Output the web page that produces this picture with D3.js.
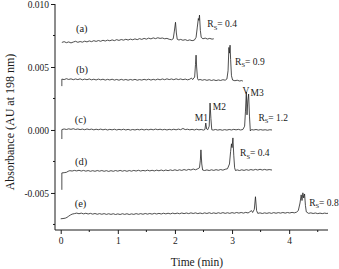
<!DOCTYPE html>
<html><head><meta charset="utf-8">
<script src="https://cdn.jsdelivr.net/npm/d3@7"></script>
<style>html,body{margin:0;padding:0;background:#fff;}svg{display:block;font-family:"Liberation Serif","Times New Roman",serif;}</style>
</head><body>
<svg id="chart" width="339" height="269"></svg>
<script>
// ---- data (time in min, absorbance in AU) ----
const traceNames = ["(a)","(b)","(c)","(d)","(e)"];
const rsLabels = ["0.4","0.9","1.2","0.4","0.8"];
const xTicks = [0,1,2,3,4];
const xMinorTicks = [0.5,1.5,2.5,3.5,4.5];
const yTicks = [-0.005,0.000,0.005,0.010];
const yMinorTicks = [-0.0075,-0.0025,0.0025,0.0075];

const traceA = [[0.02,0.00695],[0.06,0.00701],[0.10,0.00693],[0.14,0.00699],[0.18,0.00691],[0.22,0.00698],[0.26,0.00704],[0.30,0.00696],[0.34,0.00702],[0.38,0.00697],[0.42,0.00705],[0.46,0.00699],[0.50,0.00707],[0.54,0.00701],[0.58,0.00709],[0.62,0.00703],[0.66,0.00710],[0.70,0.00704],[0.74,0.00712],[0.78,0.00706],[0.82,0.00713],[0.86,0.00708],[0.90,0.00715],[0.94,0.00709],[0.98,0.00717],[1.02,0.00711],[1.06,0.00718],[1.10,0.00713],[1.14,0.00720],[1.18,0.00714],[1.22,0.00721],[1.26,0.00716],[1.30,0.00723],[1.34,0.00717],[1.38,0.00725],[1.42,0.00719],[1.46,0.00727],[1.50,0.00721],[1.54,0.00729],[1.58,0.00723],[1.62,0.00731],[1.66,0.00725],[1.70,0.00732],[1.74,0.00727],[1.78,0.00730],[1.82,0.00724],[1.86,0.00727],[1.90,0.00720],[1.94,0.00716],[1.97,0.00724],[1.99,0.00785],[2.01,0.00855],[2.025,0.00770],[2.04,0.00720],[2.07,0.00714],[2.10,0.00719],[2.14,0.00712],[2.18,0.00717],[2.22,0.00710],[2.26,0.00715],[2.30,0.00709],[2.34,0.00713],[2.37,0.00735],[2.39,0.00810],[2.41,0.00885],[2.42,0.00870],[2.43,0.00912],[2.445,0.00790],[2.46,0.00735],[2.49,0.00724],[2.53,0.00729],[2.57,0.00722],[2.61,0.00727],[2.65,0.00721],[2.68,0.00724]];

const traceB = [[0.02,0.00348],[0.02,0.00404],[0.06,0.00400],[0.10,0.00407],[0.14,0.00401],[0.18,0.00406],[0.22,0.00399],[0.26,0.00405],[0.30,0.00400],[0.34,0.00406],[0.38,0.00398],[0.42,0.00404],[0.46,0.00399],[0.50,0.00405],[0.54,0.00398],[0.58,0.00403],[0.62,0.00397],[0.66,0.00404],[0.70,0.00398],[0.74,0.00403],[0.78,0.00396],[0.82,0.00402],[0.86,0.00397],[0.90,0.00403],[0.94,0.00396],[0.98,0.00401],[1.02,0.00395],[1.06,0.00402],[1.10,0.00396],[1.14,0.00401],[1.18,0.00395],[1.22,0.00401],[1.26,0.00396],[1.30,0.00402],[1.34,0.00395],[1.38,0.00400],[1.42,0.00396],[1.46,0.00402],[1.50,0.00397],[1.54,0.00403],[1.58,0.00396],[1.62,0.00402],[1.66,0.00397],[1.70,0.00404],[1.74,0.00398],[1.78,0.00405],[1.82,0.00399],[1.86,0.00406],[1.90,0.00400],[1.94,0.00405],[1.98,0.00399],[2.02,0.00406],[2.06,0.00400],[2.10,0.00405],[2.14,0.00399],[2.18,0.00404],[2.22,0.00398],[2.26,0.00403],[2.29,0.00412],[2.31,0.00400],[2.345,0.00420],[2.36,0.00520],[2.37,0.00594],[2.38,0.00500],[2.395,0.00410],[2.41,0.00396],[2.44,0.00401],[2.48,0.00395],[2.52,0.00400],[2.56,0.00394],[2.60,0.00399],[2.64,0.00393],[2.68,0.00398],[2.72,0.00392],[2.76,0.00397],[2.80,0.00393],[2.84,0.00399],[2.88,0.00395],[2.91,0.00405],[2.93,0.00470],[2.945,0.00655],[2.955,0.00610],[2.965,0.00673],[2.975,0.00560],[2.99,0.00430],[3.01,0.00396],[3.05,0.00391],[3.09,0.00395],[3.13,0.00389],[3.17,0.00392],[3.19,0.00388]];

const traceC = [[0.02,-0.00072],[0.02,0.00003],[0.06,0.00008],[0.10,0.00004],[0.14,0.00009],[0.18,0.00005],[0.22,0.00010],[0.26,0.00004],[0.30,0.00008],[0.34,0.00003],[0.38,0.00007],[0.42,0.00002],[0.46,0.00008],[0.50,0.00003],[0.54,0.00007],[0.58,0.00001],[0.62,0.00006],[0.66,0.00002],[0.70,0.00007],[0.74,0.00001],[0.78,0.00006],[0.82,0.00000],[0.86,0.00005],[0.90,0.00001],[0.94,0.00006],[0.98,0.00000],[1.02,0.00005],[1.06,0.00001],[1.10,0.00006],[1.14,0.00000],[1.18,0.00005],[1.22,-0.00001],[1.26,0.00004],[1.30,0.00000],[1.34,0.00005],[1.38,0.00001],[1.42,0.00006],[1.46,0.00000],[1.50,0.00005],[1.54,0.00001],[1.58,0.00006],[1.62,0.00001],[1.66,0.00007],[1.70,0.00002],[1.74,0.00006],[1.78,0.00001],[1.82,0.00005],[1.86,0.00000],[1.90,0.00005],[1.94,0.00001],[1.98,0.00006],[2.02,0.00001],[2.06,0.00007],[2.10,0.00002],[2.14,0.00012],[2.18,0.00003],[2.22,0.00006],[2.26,0.00001],[2.30,0.00005],[2.34,0.00000],[2.38,0.00006],[2.42,0.00001],[2.46,0.00004],[2.50,-0.00001],[2.525,0.00004],[2.54,0.00055],[2.555,0.00008],[2.575,0.00002],[2.60,0.00030],[2.615,0.00214],[2.63,0.00090],[2.645,0.00002],[2.67,-0.00001],[2.71,0.00004],[2.75,-0.00001],[2.79,0.00003],[2.83,-0.00002],[2.87,0.00003],[2.91,-0.00001],[2.95,0.00004],[2.99,0.00000],[3.03,0.00005],[3.07,0.00001],[3.11,0.00005],[3.15,0.00000],[3.19,0.00004],[3.22,0.00030],[3.235,0.00150],[3.25,0.00301],[3.262,0.00120],[3.275,0.00230],[3.29,0.00285],[3.305,0.00110],[3.32,-0.00008],[3.34,0.00003],[3.38,0.00000],[3.42,0.00004],[3.46,-0.00001],[3.50,0.00003],[3.54,-0.00001],[3.58,0.00002],[3.62,-0.00002],[3.66,0.00002],[3.70,0.00000]];

const traceD = [[0.02,-0.00475],[0.02,-0.00341],[0.06,-0.00339],[0.10,-0.00336],[0.13,-0.00328],[0.16,-0.00323],[0.20,-0.00326],[0.24,-0.00321],[0.28,-0.00325],[0.32,-0.00320],[0.36,-0.00326],[0.40,-0.00321],[0.44,-0.00327],[0.48,-0.00322],[0.52,-0.00328],[0.56,-0.00323],[0.60,-0.00328],[0.64,-0.00322],[0.68,-0.00327],[0.72,-0.00322],[0.76,-0.00328],[0.80,-0.00323],[0.84,-0.00329],[0.88,-0.00323],[0.92,-0.00328],[0.96,-0.00322],[1.00,-0.00327],[1.04,-0.00321],[1.08,-0.00327],[1.12,-0.00322],[1.16,-0.00328],[1.20,-0.00322],[1.24,-0.00327],[1.28,-0.00321],[1.32,-0.00326],[1.36,-0.00320],[1.40,-0.00326],[1.44,-0.00321],[1.48,-0.00325],[1.52,-0.00319],[1.56,-0.00325],[1.60,-0.00320],[1.64,-0.00325],[1.68,-0.00319],[1.72,-0.00324],[1.76,-0.00318],[1.80,-0.00324],[1.84,-0.00318],[1.88,-0.00323],[1.92,-0.00317],[1.96,-0.00322],[2.00,-0.00316],[2.04,-0.00322],[2.08,-0.00316],[2.12,-0.00321],[2.16,-0.00314],[2.20,-0.00320],[2.24,-0.00313],[2.28,-0.00318],[2.32,-0.00310],[2.36,-0.00316],[2.40,-0.00308],[2.43,-0.00300],[2.445,-0.00240],[2.455,-0.00158],[2.47,-0.00270],[2.485,-0.00318],[2.52,-0.00322],[2.56,-0.00317],[2.60,-0.00322],[2.64,-0.00316],[2.68,-0.00321],[2.72,-0.00315],[2.76,-0.00320],[2.80,-0.00314],[2.84,-0.00319],[2.88,-0.00312],[2.92,-0.00308],[2.955,-0.00270],[2.975,-0.00170],[2.99,-0.00110],[3.00,-0.00140],[3.015,-0.00063],[3.03,-0.00200],[3.045,-0.00300],[3.06,-0.00322],[3.09,-0.00317],[3.13,-0.00322],[3.17,-0.00316],[3.21,-0.00321],[3.25,-0.00315],[3.29,-0.00320],[3.33,-0.00314],[3.37,-0.00319],[3.41,-0.00313],[3.45,-0.00318],[3.49,-0.00312],[3.53,-0.00318],[3.57,-0.00313],[3.61,-0.00318],[3.65,-0.00314],[3.70,-0.00318]];

const traceE = [[0.00,-0.00705],[0.04,-0.00703],[0.08,-0.00700],[0.11,-0.00694],[0.14,-0.00684],[0.17,-0.00675],[0.20,-0.00668],[0.24,-0.00664],[0.28,-0.00660],[0.32,-0.00665],[0.36,-0.00660],[0.40,-0.00666],[0.44,-0.00661],[0.48,-0.00667],[0.52,-0.00662],[0.56,-0.00668],[0.60,-0.00663],[0.64,-0.00669],[0.68,-0.00664],[0.72,-0.00669],[0.76,-0.00664],[0.80,-0.00670],[0.84,-0.00665],[0.88,-0.00670],[0.92,-0.00665],[0.96,-0.00671],[1.00,-0.00666],[1.04,-0.00671],[1.08,-0.00665],[1.12,-0.00670],[1.16,-0.00665],[1.20,-0.00671],[1.24,-0.00666],[1.28,-0.00670],[1.32,-0.00664],[1.36,-0.00669],[1.40,-0.00664],[1.44,-0.00669],[1.48,-0.00663],[1.52,-0.00668],[1.56,-0.00663],[1.60,-0.00668],[1.64,-0.00662],[1.68,-0.00667],[1.72,-0.00662],[1.76,-0.00667],[1.80,-0.00661],[1.84,-0.00666],[1.88,-0.00661],[1.92,-0.00666],[1.96,-0.00660],[2.00,-0.00665],[2.04,-0.00660],[2.08,-0.00665],[2.12,-0.00659],[2.16,-0.00664],[2.20,-0.00659],[2.24,-0.00664],[2.28,-0.00658],[2.32,-0.00663],[2.36,-0.00658],[2.40,-0.00664],[2.44,-0.00659],[2.48,-0.00664],[2.52,-0.00658],[2.56,-0.00663],[2.60,-0.00657],[2.64,-0.00663],[2.68,-0.00658],[2.72,-0.00663],[2.76,-0.00657],[2.80,-0.00662],[2.84,-0.00656],[2.88,-0.00662],[2.92,-0.00657],[2.96,-0.00662],[3.00,-0.00656],[3.04,-0.00661],[3.08,-0.00655],[3.12,-0.00660],[3.16,-0.00655],[3.20,-0.00660],[3.24,-0.00654],[3.28,-0.00659],[3.31,-0.00650],[3.34,-0.00640],[3.36,-0.00655],[3.39,-0.00630],[3.41,-0.00530],[3.43,-0.00640],[3.45,-0.00662],[3.49,-0.00658],[3.53,-0.00663],[3.57,-0.00658],[3.61,-0.00662],[3.65,-0.00657],[3.69,-0.00662],[3.73,-0.00656],[3.77,-0.00661],[3.81,-0.00656],[3.85,-0.00660],[3.89,-0.00655],[3.93,-0.00660],[3.97,-0.00655],[4.01,-0.00659],[4.05,-0.00654],[4.09,-0.00658],[4.13,-0.00652],[4.16,-0.00640],[4.19,-0.00580],[4.21,-0.00515],[4.225,-0.00560],[4.24,-0.00499],[4.255,-0.00540],[4.27,-0.00508],[4.285,-0.00600],[4.30,-0.00650],[4.34,-0.00662],[4.38,-0.00658],[4.42,-0.00663],[4.46,-0.00659],[4.50,-0.00664],[4.54,-0.00660],[4.58,-0.00664],[4.62,-0.00660],[4.66,-0.00663],[4.68,-0.00661]];

const traces = [traceA, traceB, traceC, traceD, traceE];

// annotation anchors in data coordinates [time, absorbance]
const nameAnchors = [[0.368,0.00806],[0.373,0.00482],[0.347,0.00085],[0.356,-0.00252],[0.347,-0.00587]];
const rsAnchors = [[2.567,0.00841],[3.053,0.00542],[3.461,0.00098],[3.140,-0.00185],[4.350,-0.00577]];
const peakNames = ["M1","M2","V","M3"];
const peakAnchors = [[2.462,0.00093],[2.778,0.00185],[3.242,0.00310],[3.440,0.00291]];

// ---- drawing ----
const svg = d3.select("#chart");
const x = d3.scaleLinear().domain([-0.1, 4.68]).range([55, 328]);
const y = d3.scaleLinear().domain([-0.00794, 0.010]).range([230, 4]);
const ink = "#1a1a1a";

const line = d3.line().x(d => x(d[0])).y(d => y(d[1]));
svg.append("g").selectAll("path").data(traces).join("path")
  .attr("d", line).attr("fill", "none").attr("stroke", "#222")
  .attr("stroke-width", 0.8).attr("stroke-linejoin", "round");

// x axis
const xAxis = svg.append("g").attr("transform", "translate(0,230)");
xAxis.call(d3.axisBottom(x).tickValues(xTicks).tickFormat(d3.format("d")).tickSize(4).tickPadding(3));
xAxis.append("g").selectAll("line").data(xMinorTicks).join("line")
  .attr("x1", d => x(d)).attr("x2", d => x(d)).attr("y1", 0).attr("y2", 2).attr("stroke", ink);
xAxis.select(".domain").attr("d", `M${x.range()[0]},0H${x.range()[1]}`);

// y axis
const fmtY = v => d3.format(".3f")(v).replace("\u2212", "-");
const yAxis = svg.append("g").attr("transform", "translate(55,0)");
yAxis.call(d3.axisLeft(y).tickValues(yTicks).tickFormat(fmtY).tickSize(4).tickPadding(2));
yAxis.append("g").selectAll("line").data(yMinorTicks).join("line")
  .attr("x1", 0).attr("x2", -2).attr("y1", d => y(d)).attr("y2", d => y(d)).attr("stroke", ink);
yAxis.select(".domain").attr("d", `M0,${y.range()[0]}V${y.range()[1]}`);

svg.selectAll(".tick text").attr("font-family", "Liberation Serif, serif").attr("font-size", 9.5).attr("fill", ink);
svg.selectAll(".domain, .tick line").attr("stroke", ink).attr("stroke-width", 1);

// axis titles
svg.append("text").attr("x", 197).attr("y", 266).attr("text-anchor", "middle")
  .attr("font-size", 11.5).attr("fill", ink).text("Time (min)");
svg.append("text").attr("transform", "translate(14,122) rotate(-90)").attr("text-anchor", "middle")
  .attr("font-size", 12).attr("fill", ink).text("Absorbance (AU at 198 nm)");

// trace names
svg.append("g").selectAll("text").data(traceNames).join("text")
  .attr("x", (d, i) => x(nameAnchors[i][0])).attr("y", (d, i) => y(nameAnchors[i][1]))
  .attr("text-anchor", "middle").attr("dominant-baseline", "central")
  .attr("font-size", 10.5).attr("fill", ink).text(d => d);

// Rs labels
const rs = svg.append("g").selectAll("text").data(rsLabels).join("text")
  .attr("x", (d, i) => x(rsAnchors[i][0])).attr("y", (d, i) => y(rsAnchors[i][1]) + 3)
  .attr("font-size", 9.5).attr("fill", ink);
rs.append("tspan").text("R");
rs.append("tspan").attr("dy", 2.5).attr("font-size", 6.5).text("S");
rs.append("tspan").attr("dy", -2.5).text(d => "= " + d);

// peak names
svg.append("g").selectAll("text").data(peakNames).join("text")
  .attr("x", (d, i) => x(peakAnchors[i][0])).attr("y", (d, i) => y(peakAnchors[i][1]))
  .attr("text-anchor", "middle").attr("dominant-baseline", "central")
  .attr("font-size", 9.5).attr("fill", ink).text(d => d);
</script>
</body></html>
